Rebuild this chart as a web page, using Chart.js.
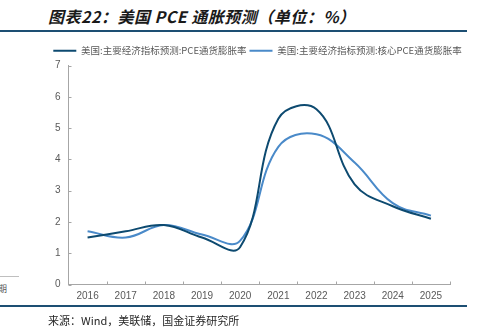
<!DOCTYPE html>
<html>
<head>
<meta charset="utf-8">
<script src="https://cdn.jsdelivr.net/npm/chart.js@4"></script>
<style>
  body { margin: 0; width: 483px; height: 335px; background: #fff; position: relative; overflow: hidden;
         font-family: "Noto Sans CJK SC", "Noto Sans", sans-serif; }
  #titulo { position: absolute; left: 48px; top: 4px; font-size: 16px; font-weight: bold; font-style: italic;
            color: #1a1a1a; white-space: nowrap; letter-spacing: 0.5px; }
  .regla { position: absolute; left: 0; width: 467px; height: 2px; background: #1d4f73; }
  #fuente { position: absolute; left: 48px; top: 312px; font-size: 11px; color: #262626; white-space: nowrap; }
  #lateral { position: absolute; right: 476px; top: 282px; font-size: 9px; color: #595959; white-space: nowrap; }
  #lateralLinea { position: absolute; left: 0; top: 276px; width: 19px; height: 1px; background: #bfbfbf; }
  #lienzo { position: absolute; left: 32px; top: 36px; }
</style>
</head>
<body>
<div id="titulo">图表22：美国 PCE 通胀预测（单位：%）</div>
<div class="regla" style="top:30px"></div>
<div id="lateralLinea"></div>
<div id="lateral">日期</div>
<div id="lienzo"><canvas id="grafica" width="451" height="270"></canvas></div>
<div class="regla" style="top:305px"></div>
<div id="fuente">来源：Wind，美联储，国金证券研究所</div>

<script>
// años y proyecciones (%)
const anios = ["2016", "2017", "2018", "2019", "2020", "2021", "2022", "2023", "2024", "2025"];
const pce = [1.5, 1.7, 1.9, 1.5, 1.2, 5.3, 5.6, 3.2, 2.5, 2.1];
const pceCore = [1.7, 1.5, 1.9, 1.6, 1.4, 4.4, 4.8, 3.9, 2.6, 2.2];
const etiquetas = ["美国:主要经济指标预测:PCE通货膨胀率", "美国:主要经济指标预测:核心PCE通货膨胀率"];
const colores = ["#0d4a70", "#4a8ac9"];

// marcas cortas hacia dentro en ambos ejes
const marcasInternas = {
  id: "marcasInternas",
  afterDraw(chart) {
    const ctx = chart.ctx;
    const y = chart.scales.y;
    const area = chart.chartArea;
    ctx.save();
    ctx.strokeStyle = "#a6a6a6";
    ctx.lineWidth = 1;
    ctx.beginPath();
    y.ticks.forEach(t => {
      const py = Math.round(y.getPixelForValue(t.value)) + 0.5;
      ctx.moveTo(area.left, py);
      ctx.lineTo(area.left + 3, py);
    });
    const ancho = (area.right - area.left) / anios.length;
    for (let i = 1; i <= anios.length; i++) {
      const px = Math.round(area.left + i * ancho) + 0.5;
      ctx.moveTo(px, area.bottom);
      ctx.lineTo(px, area.bottom - 3);
    }
    ctx.stroke();
    ctx.restore();
  }
};

const fuenteEje = { size: 10, family: "'Liberation Sans', Arial, sans-serif" };

const ctx = document.getElementById("grafica").getContext("2d");
new Chart(ctx, {
  type: "line",
  data: {
    labels: anios,
    datasets: [
      { label: etiquetas[0], data: pce, borderColor: colores[0], backgroundColor: colores[0] },
      { label: etiquetas[1], data: pceCore, borderColor: colores[1], backgroundColor: colores[1] }
    ]
  },
  options: {
    responsive: false,
    animation: false,
    layout: { padding: { left: 0, right: 0, top: 7, bottom: 0 } },
    elements: {
      line: { borderWidth: 2, tension: 0.4, fill: false },
      point: { radius: 0 }
    },
    plugins: {
      tooltip: { enabled: false },
      legend: {
        position: "top",
        labels: {
          color: "#595959",
          font: { size: 9.5, family: "'Noto Sans CJK SC', sans-serif" },
          boxWidth: 23,
          boxHeight: 2,
          padding: 3,
          generateLabels(chart) {
            return chart.data.datasets.map((d, i) => ({
              text: d.label,
              fillStyle: d.borderColor,
              strokeStyle: d.borderColor,
              lineWidth: 0,
              fontColor: "#595959",
              datasetIndex: i
            }));
          }
        }
      }
    },
    scales: {
      x: {
        offset: true,
        grid: { display: false, drawTicks: false },
        border: { display: true, color: "#a6a6a6", width: 1 },
        ticks: { color: "#595959", font: fuenteEje, padding: 6, maxRotation: 0 },
        afterFit(scale) { scale.height = 21.5; }
      },
      y: {
        min: 0,
        max: 7,
        grid: { display: false, drawTicks: false },
        border: { display: true, color: "#a6a6a6", width: 1 },
        ticks: { stepSize: 1, color: "#595959", font: fuenteEje, padding: 8 },
        afterFit(scale) { scale.width = 36.5; }
      },
      // eje vacío a la derecha para dejar margen
      margen: {
        position: "right",
        grid: { display: false, drawTicks: false },
        border: { display: false },
        ticks: { display: false },
        afterFit(scale) { scale.width = 33; }
      }
    }
  },
  plugins: [marcasInternas]
});
</script>
</body>
</html>
